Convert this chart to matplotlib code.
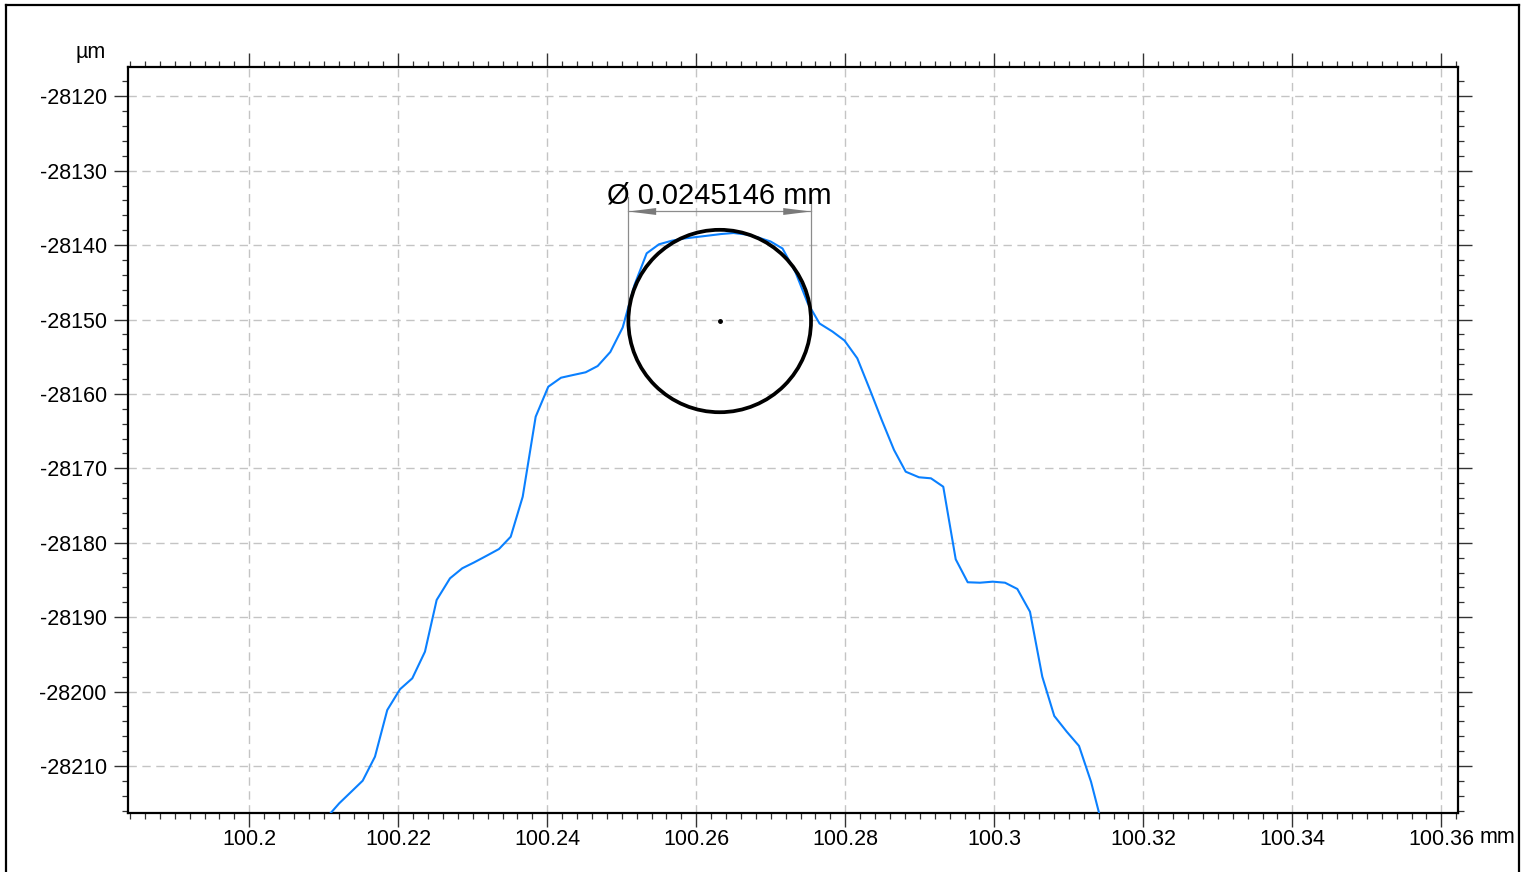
import matplotlib
matplotlib.use("Agg")
import matplotlib.pyplot as plt
from matplotlib.patches import Ellipse
from matplotlib.ticker import FixedLocator, MultipleLocator, FixedFormatter
from matplotlib.lines import Line2D

plt.rcParams['font.family'] = ['Liberation Sans', 'DejaVu Sans']
plt.rcParams['axes.unicode_minus'] = False

# ---- data ----
profile_x_mm = [100.21042, 100.21208, 100.21365, 100.21522, 100.21687, 100.21852,
                100.22023, 100.22188, 100.22358, 100.22515, 100.22694, 100.22859,
                100.23016, 100.23187, 100.23352, 100.23509, 100.23670, 100.23844,
                100.24013, 100.24184, 100.24349, 100.24515, 100.24676, 100.24846,
                100.25012, 100.25170, 100.25334, 100.25499, 100.25670, 100.25835,
                100.26003, 100.26170, 100.26332, 100.26499, 100.26667, 100.26832,
                100.26997, 100.27157, 100.27330, 100.27495, 100.27654, 100.27827,
                100.27989, 100.28161, 100.28332, 100.28489, 100.28654, 100.28811,
                100.28989, 100.29150, 100.29315, 100.29482, 100.29643, 100.29808,
                100.29979, 100.30144, 100.30309, 100.30479, 100.30644, 100.30805,
                100.30972, 100.31137, 100.31298, 100.31464]
profile_y_um = [-28216.90, -28215.01, -28213.50, -28211.98, -28208.75, -28202.48,
                -28199.69, -28198.22, -28194.64, -28187.69, -28184.78, -28183.43,
                -28182.65, -28181.74, -28180.84, -28179.19, -28173.81, -28163.06,
                -28159.03, -28157.82, -28157.45, -28157.09, -28156.25, -28154.36,
                -28151.07, -28145.36, -28141.10, -28139.89, -28139.41, -28139.11,
                -28138.91, -28138.71, -28138.51, -28138.37, -28138.57, -28138.98,
                -28139.51, -28140.45, -28143.61, -28147.78, -28150.53, -28151.61,
                -28152.82, -28155.21, -28159.47, -28163.50, -28167.53, -28170.45,
                -28171.20, -28171.34, -28172.47, -28182.22, -28185.31, -28185.37,
                -28185.23, -28185.37, -28186.21, -28189.27, -28198.00, -28203.28,
                -28205.39, -28207.31, -28212.11, -28218.56]

circle_center_x_mm = 100.263141
circle_center_y_um = -28150.2
circle_diameter_mm = 0.0245146
diameter_label = "Ø 0.0245146 mm"

x_ticks = [100.20, 100.22, 100.24, 100.26, 100.28, 100.30, 100.32, 100.34, 100.36]
x_tick_labels = ["100.2", "100.22", "100.24", "100.26", "100.28", "100.3",
                 "100.32", "100.34", "100.36"]
y_ticks = [-28120, -28130, -28140, -28150, -28160, -28170, -28180, -28190,
           -28200, -28210]
y_tick_labels = ["-28120", "-28130", "-28140", "-28150", "-28160", "-28170",
                 "-28180", "-28190", "-28200", "-28210"]
x_unit = "mm"
y_unit = "µm"

# ---- figure ----
W, H = 1527, 872
fig = plt.figure(figsize=(W / 100, H / 100), dpi=100)
ax = fig.add_axes([127.7 / W, 1 - 812.7 / H, (1457.7 - 127.7) / W, (812.7 - 66.7) / H])

ax.set_xlim(100.18368, 100.36220)
ax.set_ylim(-28216.28, -28116.02)

ax.grid(True, which='major', color='#c4c4c4', linestyle=(0, (6, 4)), linewidth=1.0)
ax.set_axisbelow(True)

ax.plot(profile_x_mm, profile_y_um, color='#0a80ff', linewidth=1.5, zorder=3)

r_mm = circle_diameter_mm / 2
r_um = circle_diameter_mm * 1000 / 2
ax.add_patch(Ellipse((circle_center_x_mm, circle_center_y_um), 2 * r_mm, 2 * r_um,
                     fill=False, edgecolor='black', linewidth=2.7, zorder=4))
ax.plot([circle_center_x_mm], [circle_center_y_um], 'o', color='black',
        markersize=2.5, zorder=5)

# dimension
left_x = circle_center_x_mm - r_mm
right_x = circle_center_x_mm + r_mm
dim_y = -28135.48
ext_top = -28133.53
gray = '#8c8c8c'
for xx in (left_x, right_x):
    ax.plot([xx, xx], [ext_top, circle_center_y_um], color=gray, linewidth=0.9, zorder=3.5)
ax.plot([left_x, right_x], [dim_y, dim_y], color=gray, linewidth=0.9, zorder=3.5)
for tip, tail in ((left_x, circle_center_x_mm), (right_x, circle_center_x_mm)):
    ax.annotate('', xy=(tip, dim_y), xytext=(tail, dim_y),
                arrowprops=dict(arrowstyle='-|>,head_length=2.0,head_width=0.25',
                                mutation_scale=10, color='#7a7a7a', linewidth=0,
                                shrinkA=0, shrinkB=0), zorder=3.6)
ax.text(circle_center_x_mm, -28134.38, diameter_label, ha='center', va='baseline',
        fontsize=21, color='black', zorder=6)

# ticks
ax.xaxis.set_major_locator(FixedLocator(x_ticks))
ax.xaxis.set_major_formatter(FixedFormatter(x_tick_labels))
ax.yaxis.set_major_locator(FixedLocator(y_ticks))
ax.yaxis.set_major_formatter(FixedFormatter(y_tick_labels))
ax.xaxis.set_minor_locator(MultipleLocator(0.002))
ax.yaxis.set_minor_locator(MultipleLocator(2))
ax.tick_params(which='both', direction='out', top=True, right=True,
               labeltop=False, labelright=False, color='#333333')
ax.tick_params(which='major', length=10, width=1.0, labelsize=15.5)
ax.tick_params(axis='y', which='major', pad=5)
ax.tick_params(axis='x', which='major', pad=1.5)
ax.tick_params(which='minor', length=4.5, width=0.9)
for s in ax.spines.values():
    s.set_linewidth(1.6)
    s.set_color('black')

fig.text(106 / W, 1 - 58 / H, y_unit, ha='right', va='baseline', fontsize=15.5)
fig.text(1480 / W, 1 - 843.3 / H, x_unit, ha='left', va='baseline', fontsize=15.5)

# outer frame
fx0, fx1, fy1 = 5.5 / W, 1518.5 / W, 1 - 5.5 / H
for xs, ys in (([fx0, fx0], [0, fy1]), ([fx1, fx1], [0, fy1]), ([fx0, fx1], [fy1, fy1])):
    fig.add_artist(Line2D(xs, ys, transform=fig.transFigure, color='black', linewidth=1.6))

fig.savefig('out.png', dpi=100)
